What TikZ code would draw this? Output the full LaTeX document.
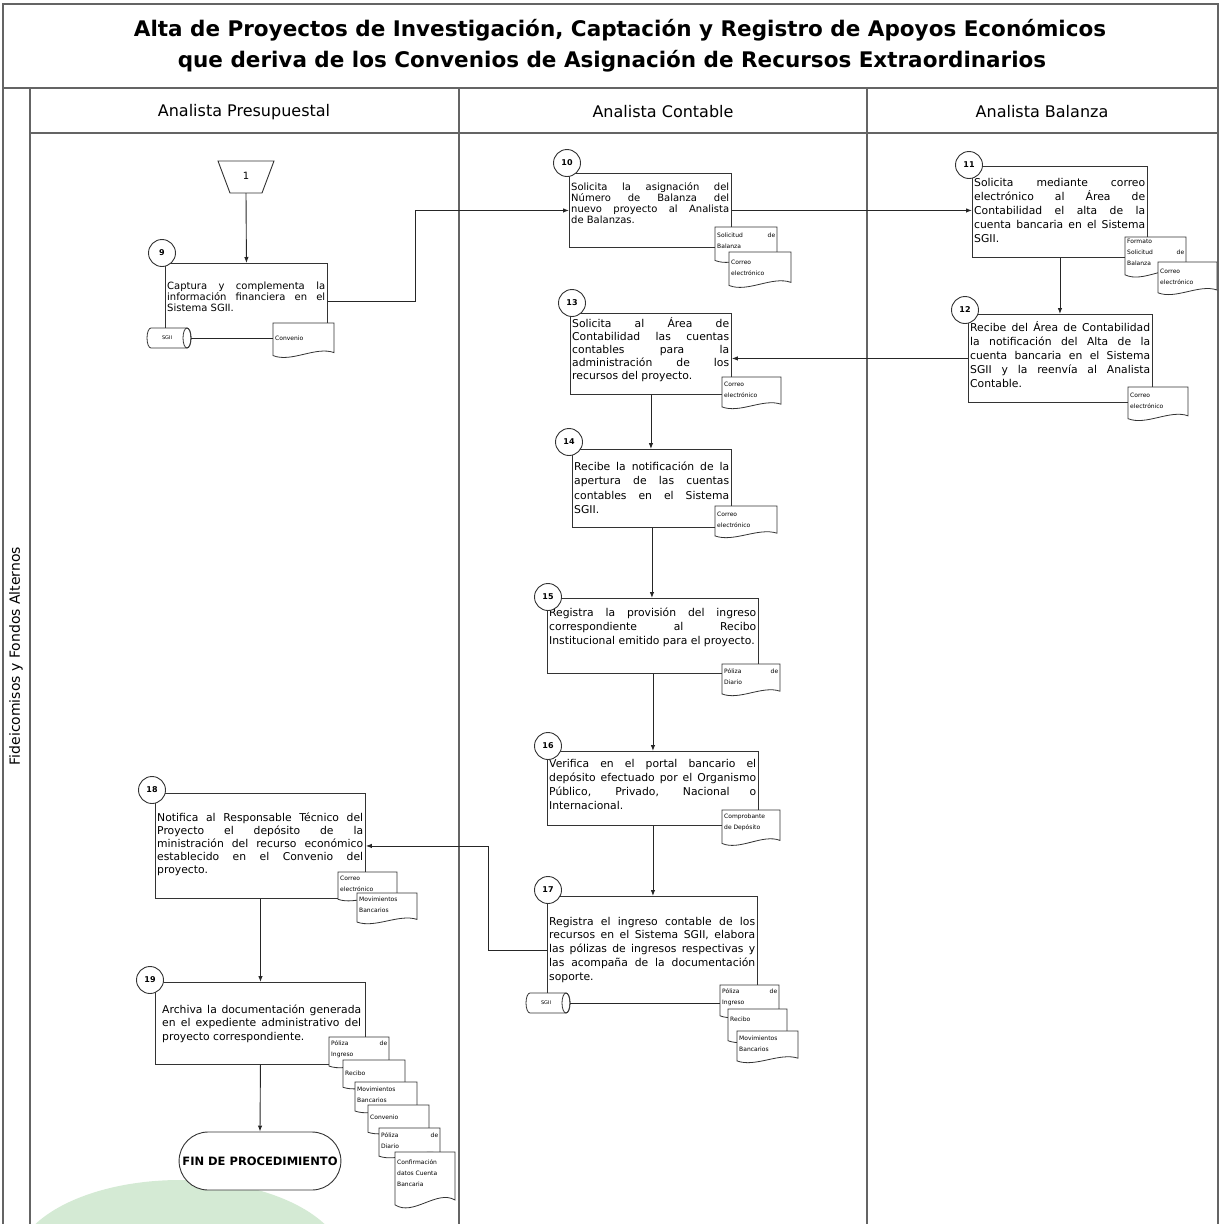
\documentclass[tikz,border=0pt]{standalone}
\usepackage{fontspec}
\setmainfont{DejaVu Sans}
\usetikzlibrary{arrows.meta,calc}

% one justified line / one natural line of a text block
\newcommand\jline[1]{\hbox to \hsize{#1}}
\newcommand\lline[1]{\hbox{#1}}
% text block: width (pt), line pitch (pt), lines
\newcommand\txtblk[3]{\vtop{\hsize=#1pt\baselineskip=#2pt\lineskiplimit=-100pt\relax#3}}

\definecolor{wmgreen}{RGB}{212,234,212}
\definecolor{framegray}{RGB}{100,100,100}

\tikzset{
  frame/.style={draw=framegray, line width=1.6pt},
  lane/.style={draw=framegray, line width=1.3pt},
  stepbox/.style={draw=black!80, line width=0.9pt, fill=white, anchor=north west, inner sep=0pt},
  numc/.style={circle, draw=black!80, line width=0.9pt, fill=white, minimum size=27pt, inner sep=0pt,
    font=\bfseries\fontsize{8}{9}\selectfont},
  body/.style={inner sep=0pt, anchor=base west, font=\fontsize{10.8}{13}\selectfont},
  doctxt/.style={inner sep=0pt, anchor=base west, font=\fontsize{6}{7}\selectfont},
  docshape/.style={draw=black!80, line width=0.8pt, fill=white},
  conn/.style={draw=black!85, line width=0.9pt},
  arr/.style={conn, -{Latex[length=6pt,width=4.5pt]}},
  dbtxt/.style={inner sep=0pt, font=\fontsize{5}{6}\selectfont},
  endbox/.style={draw=black!80, line width=0.9pt, fill=white, rounded corners=29pt,
    minimum width=160pt, minimum height=58pt, font=\bfseries\fontsize{11.5}{13}\selectfont},
  lanehead/.style={font=\fontsize{16}{18}\selectfont},
  titletext/.style={font=\bfseries\fontsize{21.5}{26}\selectfont},
}

% document symbol with wavy bottom: name, x, y, w, h, baseline offset, lines
\newcommand\docu[7]{%
  \path[docshape] (#2,#3) -- ++(#4,0) -- ++(0,{0.8*#5})
     .. controls +({-0.3*#4},{-0.18*#5}) and +({0.3*#4},{0.2*#5}) .. (#2,{#3+0.88*#5}) -- cycle;
  \coordinate (#1-nw) at (#2,#3);
  \node[doctxt] (#1) at ({#2+2},{#3+#6}) {\txtblk{\the\numexpr#4-4\relax}{11}{#7}};
}

% stored-data drum lying on its side: name, centre x, centre y, label
\newcommand\drum[4]{%
  \path[docshape] ({#2-18},{#3-10}) -- ({#2+18},{#3-10})
     arc[start angle=-90, end angle=90, x radius=4, y radius=10]
     -- ({#2-18},{#3+10})
     arc[start angle=90, end angle=270, x radius=4, y radius=10] -- cycle;
  \draw[draw=black!80, line width=0.8pt] ({#2+18},#3) ellipse [x radius=4, y radius=10];
  \node[dbtxt] (#1) at ({#2-2},#3) {#4};
  \coordinate (#1-e) at ({#2+22},#3);
}

\begin{document}
\begin{tikzpicture}[x=1pt,y=-1pt]
\useasboundingbox (0,0) rectangle (1220,1224);

% faint emblem at the foot of the sheet
\fill[wmgreen] (180,1265) ellipse [x radius=165, y radius=85];

% frame, title band and swimlanes
\draw[frame] (3,1224) -- (3,4) -- (1218,4) -- (1218,1224);
\draw[frame] (3,88) -- (1218,88);
\draw[lane] (30,133) -- (1218,133);
\draw[lane] (30,88) -- (30,1224);
\draw[lane] (459,88) -- (459,1224);
\draw[lane] (867,88) -- (867,1224);

\node[titletext] (title1) at (620,30) {Alta de Proyectos de Investigación, Captación y Registro de Apoyos Económicos};
\node[titletext] (title2) at (612,61) {que deriva de los Convenios de Asignación de Recursos Extraordinarios};

\node[lanehead] (h1) at (244,112) {Analista Presupuestal};
\node[lanehead] (h2) at (663,112) {Analista Contable};
\node[lanehead] (h3) at (1042,112) {Analista Balanza};
\node[rotate=90, font=\fontsize{14}{16}\selectfont] (pool) at (16,656) {Fideicomisos y Fondos Alternos};

% off-page connector 1
\draw[draw=black!80, line width=0.9pt, fill=white] (218,161) -- (274,161) -- (262,193) -- (230,193) -- cycle;
\node[font=\fontsize{10}{12}\selectfont] (c1) at (246,176) {1};
\coordinate (c1b) at (246,193);

% ---- step 9
\node[stepbox, minimum width=162pt, minimum height=75pt] (b9) at (165,263) {};
\node[body, font=\fontsize{10}{12}\selectfont] (t9) at (167,289) {\txtblk{158}{11.3}{%
  \jline{Captura y complementa la}\jline{información financiera en el}\lline{Sistema SGII.}}};
\docu{d9}{273}{323}{61}{37}{17}{\lline{Convenio}}
\drum{db9}{169}{338}{SGII}
\draw[conn] (db9-e) -- (db9-e -| d9-nw);
\node[numc] (n9) at (162,253) {9};

% ---- step 10
\node[stepbox, minimum width=162pt, minimum height=74pt] (b10) at (569,173) {};
\node[body, font=\fontsize{10}{12}\selectfont] (t10) at (571,190) {\txtblk{158}{11.2}{%
  \jline{Solicita la asignación del}\jline{Número de Balanza del}\jline{nuevo proyecto al Analista}\lline{de Balanzas.}}};
\docu{d10a}{715}{227}{62}{38}{10}{\jline{Solicitud de}\lline{Balanza}}
\docu{d10b}{729}{252}{62}{38}{12}{\lline{Correo}\lline{electrónico}}
\node[numc] (n10) at (567,163) {10};

% ---- step 11
\node[stepbox, minimum width=175pt, minimum height=91pt] (b11) at (972,166) {};
\node[body] (t11) at (974,186) {\txtblk{171}{14}{%
  \jline{Solicita mediante correo}\jline{electrónico al Área de}\jline{Contabilidad el alta de la}%
  \jline{cuenta bancaria en el Sistema}\lline{SGII.}}};
\docu{d11a}{1125}{237}{61}{43}{6}{\lline{Formato}\jline{Solicitud de}\lline{Balanza}}
\docu{d11b}{1158}{262}{59}{35}{11}{\lline{Correo}\lline{electrónico}}
\node[numc] (n11) at (969,165) {11};

% ---- step 12
\node[stepbox, minimum width=184pt, minimum height=88pt] (b12) at (968,314) {};
\node[body] (t12) at (970,331) {\txtblk{180}{14}{%
  \jline{Recibe del Área de Contabilidad}\jline{la notificación del Alta de la}%
  \jline{cuenta bancaria en el Sistema}\jline{SGII y la reenvía al Analista}\lline{Contable.}}};
\docu{d12}{1128}{387}{60}{36}{10}{\lline{Correo}\lline{electrónico}}
\node[numc] (n12) at (965,310) {12};

% ---- step 13
\node[stepbox, minimum width=161pt, minimum height=81pt] (b13) at (570,313) {};
\node[body] (t13) at (572,327) {\txtblk{157}{13}{%
  \jline{Solicita al Área de}\jline{Contabilidad las cuentas}\jline{contables para la}%
  \jline{administración de los}\lline{recursos del proyecto.}}};
\docu{d13}{722}{377}{59}{34}{9}{\lline{Correo}\lline{electrónico}}
\node[numc] (n13) at (572,303) {13};

% ---- step 14
\node[stepbox, minimum width=159pt, minimum height=78pt] (b14) at (572,449) {};
\node[body] (t14) at (574,470) {\txtblk{155}{14.5}{%
  \jline{Recibe la notificación de la}\jline{apertura de las cuentas}\jline{contables en el Sistema}\lline{SGII.}}};
\docu{d14}{715}{506}{62}{34}{10}{\lline{Correo}\lline{electrónico}}
\node[numc] (n14) at (569,442) {14};

% ---- step 15
\node[stepbox, minimum width=211pt, minimum height=75pt] (b15) at (547,598) {};
\node[body] (t15) at (549,616) {\txtblk{207}{14}{%
  \jline{Registra la provisión del ingreso}\jline{correspondiente al Recibo}\lline{Institucional emitido para el proyecto.}}};
\docu{d15}{722}{664}{58}{34}{9}{\jline{Póliza de}\lline{Diario}}
\node[numc] (n15) at (548,597) {15};

% ---- step 16
\node[stepbox, minimum width=211pt, minimum height=74pt] (b16) at (547,751) {};
\node[body] (t16) at (549,767) {\txtblk{207}{14}{%
  \jline{Verifica en el portal bancario el}\jline{depósito efectuado por el Organismo}%
  \jline{Público, Privado, Nacional o}\lline{Internacional.}}};
\docu{d16}{722}{810}{58}{38}{8}{\lline{Comprobante}\lline{de Depósito}}
\node[numc] (n16) at (548,746) {16};

% ---- step 17
\node[stepbox, minimum width=210pt, minimum height=107pt] (b17) at (547,896) {};
\node[body] (t17) at (549,925) {\txtblk{206}{13.8}{%
  \jline{Registra el ingreso contable de los}\jline{recursos en el Sistema SGII, elabora}%
  \jline{las pólizas de ingresos respectivas y}\jline{las acompaña de la documentación}\lline{soporte.}}};
\docu{d17a}{720}{985}{59}{35}{8}{\jline{Póliza de}\lline{Ingreso}}
\docu{d17b}{728}{1009}{59}{36}{12}{\lline{Recibo}}
\docu{d17c}{737}{1031}{61}{34}{9}{\lline{Movimientos}\lline{Bancarios}}
\drum{db17}{548}{1003}{SGII}
\draw[conn] (db17-e) -- (db17-e -| d17a-nw);
\node[numc] (n17) at (548,890) {17};

% ---- step 18
\node[stepbox, minimum width=210pt, minimum height=105pt] (b18) at (155,793) {};
\node[body] (t18) at (157,821) {\txtblk{206}{13}{%
  \jline{Notifica al Responsable Técnico del}\jline{Proyecto el depósito de la}%
  \jline{ministración del recurso económico}\jline{establecido en el Convenio del}\lline{proyecto.}}};
\docu{d18a}{338}{872}{59}{31}{8}{\lline{Correo}\lline{electrónico}}
\docu{d18b}{357}{893}{60}{33}{8}{\lline{Movimientos}\lline{Bancarios}}
\node[numc] (n18) at (152,790) {18};

% ---- step 19
\node[stepbox, minimum width=210pt, minimum height=82pt] (b19) at (155,982) {};
\node[body] (t19) at (162,1013) {\txtblk{199}{13.5}{%
  \jline{Archiva la documentación generada}\jline{en el expediente administrativo del}\lline{proyecto correspondiente.}}};
\docu{d19a}{329}{1037}{60}{33}{8}{\jline{Póliza de}\lline{Ingreso}}
\docu{d19b}{343}{1060}{62}{31}{15}{\lline{Recibo}}
\docu{d19c}{355}{1082}{62}{33}{9}{\lline{Movimientos}\lline{Bancarios}}
\docu{d19d}{368}{1105}{61}{31}{14}{\lline{Convenio}}
\docu{d19e}{379}{1128}{61}{32}{9}{\jline{Póliza de}\lline{Diario}}
\docu{d19f}{395}{1152}{60}{60}{12}{\lline{Confirmación}\lline{datos Cuenta}\lline{Bancaria}}
\node[numc] (n19) at (150,980) {19};

% end of procedure
\node[endbox] (fin) at (260,1161) {FIN DE PROCEDIMIENTO};

% flow
\draw[arr] (c1b) -- (b9.north);
\draw[arr] (b9.east) -- ++(88,0) |- (b10.west);
\draw[arr] (b10.east) -- (b10.east -| b11.west);
\draw[arr] (b11.south) -- (b11.south |- b12.north);
\draw[arr] (b12.west) -- (b12.west -| b13.east);
\draw[arr] (b13.south) -- (b13.south |- b14.north);
\draw[arr] (b14.south) -- (b14.south |- b15.north);
\draw[arr] (b15.south) -- (b15.south |- b16.north);
\draw[arr] (b16.south) -- (b16.south |- b17.north);
\draw[arr] (b17.west) -- ++(-59,0) |- (b18.east);
\draw[arr] (b18.south) -- (b19.north);
\draw[arr] (b19.south) -- (fin.north);
\end{tikzpicture}
\end{document}
